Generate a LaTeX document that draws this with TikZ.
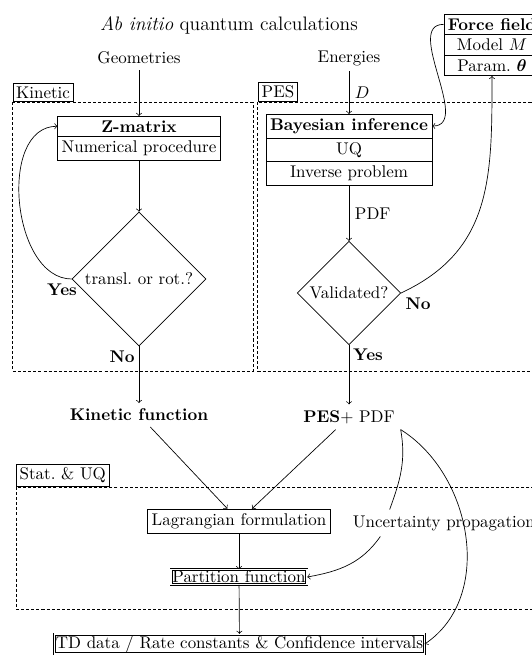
\documentclass[tikz,border=0pt]{standalone}
\usepackage{bm}
\usetikzlibrary{shapes.multipart,shapes.geometric,calc}

\begin{document}
\begin{tikzpicture}[x=0.59pt, y=0.59pt,
  splitbox/.style={draw, rectangle split, rectangle split parts=#1, inner xsep=2.3pt, inner ysep=2.3pt, anchor=north},
  decision/.style={draw, diamond, inner sep=0pt, minimum width=#1, minimum height=#1},
  plainbox/.style={draw, inner sep=2.5pt},
  dblbox/.style={draw, double, double distance=0.9pt, inner sep=0.8pt},
  groupbox/.style={draw, dash pattern=on 1.8pt off 1.2pt},
  grouplabel/.style={draw, anchor=south west, inner sep=2pt},
  answer/.style={font=\bfseries, inner sep=0pt}]
\useasboundingbox (0,0) rectangle (531,-656);

\node[font=\fontsize{11.5}{14}\selectfont] (title) at (229,-25) {\textit{Ab initio} quantum calculations};
\node (geom) at (139,-58) {Geometries};
\node (energ) at (349,-58) {Energies};

\draw[groupbox] (12.5,-102) rectangle (253,-371);
\node[grouplabel] (kinlab) at (12.5,-102) {Kinetic};
\draw[groupbox] (257,-102) rectangle (560,-371);
\node[grouplabel] (peslab) at (258,-102) {PES};
\draw[groupbox] (16,-487) rectangle (560,-609);
\node[grouplabel] (statlab) at (16,-487) {Stat.\ \& UQ};

\node[splitbox=2] (zmat) at (139,-116) {\textbf{Z-matrix}\nodepart{two}Numerical procedure};
\node[decision=79pt] (transrot) at (139,-279) {transl.\ or rot.?};
\node[splitbox=3] (bayes) at (349,-114) {\textbf{Bayesian inference}\nodepart{two}UQ\nodepart{three}Inverse problem};
\node[decision=61pt] (valid) at (349,-293) {Validated?};
\node[splitbox=3] (force) at (492,-14) {\textbf{Force field}\nodepart{two}Model $M$\nodepart{three}Param.\ $\bm{\theta}$};

\node[font=\bfseries] (kinfun) at (139,-415) {Kinetic function};
\node (pesfun) at (349,-417) {\textbf{PES}+ PDF};
\node[plainbox] (lagr) at (239,-521) {Lagrangian formulation};
\node[dblbox] (partfun) at (239,-577) {Partition function};
\node[dblbox] (tddata) at (239.5,-644) {TD data / Rate constants \& Confidence intervals};
\node[anchor=west] (uncert) at (347,-523) {Uncertainty propagation};

\node[answer] (yes1) at (62,-290) {Yes};
\node[answer] (no1) at (122,-357) {No};
\node[answer] (no2) at (418,-304) {No};
\node[answer] (yes2) at (368,-355) {Yes};

\coordinate (zmatin) at ($(zmat.north west)!.5!(zmat.text split west)$);
\coordinate (forceout) at ($(force.north west)!.5!(force.text split west)$);
\coordinate (bayesin) at ($(bayes.north east)!.5!(bayes.text split east)$);

\draw[->] (geom) -- (zmat);
\draw[->] (zmat) -- (transrot);
\draw[->] (transrot) -- (kinfun);
\draw[->] (transrot.west) to[out=180, in=180] (zmatin);
\draw[->] (energ) -- node[right] {$D$} (bayes);
\draw[->] (bayes) -- node[right] {PDF} (valid);
\draw[->] (valid) -- (pesfun);
\draw[->] (forceout) to[out=180, in=0] (bayesin);
\draw[->] (valid.east) to[out=25, in=-90, looseness=1.1] (force.south);
\draw[->] (kinfun) -- (lagr);
\draw[->] (pesfun) -- (lagr);
\draw[->] (lagr) -- (partfun);
\draw[->] (partfun) -- (tddata);
\draw (pesfun.south east) to[out=-80, in=70] (uncert.166);
\draw[->] (uncert.-168) to[out=-125, in=10] (partfun.east);
\draw[->] (pesfun.south east) to[out=-32, in=34] (tddata.east);
\end{tikzpicture}
\end{document}
